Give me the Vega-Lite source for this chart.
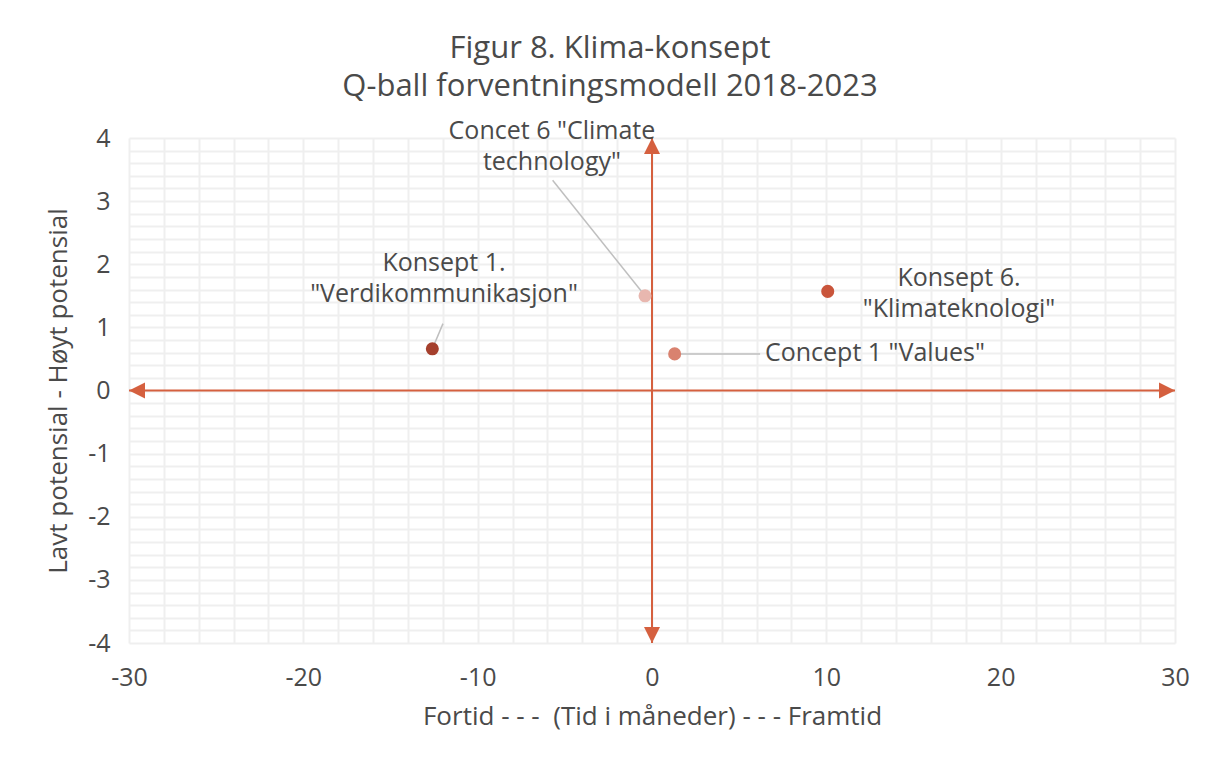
{
  "$schema": "https://vega.github.io/schema/vega-lite/v6.json",
  "autosize": {"type": "none"},
  "width": 1046,
  "height": 505,
  "padding": {"left": 129, "top": 138, "right": 33, "bottom": 117},
  "background": "white",
  "title": {
    "text": ["Figur 8. Klima-konsept", "Q-ball forventningsmodell 2018-2023"],
    "anchor": "middle",
    "frame": "group",
    "dx": -42,
    "offset": 16,
    "fontSize": 31,
    "font": "Open Sans",
    "fontWeight": "normal",
    "color": "#4a4a4a",
    "lineHeight": 38
  },
  "config": {
    "view": {"stroke": null},
    "axis": {
      "labelFont": "Open Sans",
      "labelFontSize": 25,
      "labelColor": "#4a4a4a",
      "titleFont": "Open Sans",
      "titleFontSize": 26,
      "titleFontWeight": "normal",
      "titleColor": "#4a4a4a",
      "domain": false,
      "ticks": false,
      "tickSize": 0,
      "tickCount": 100,
      "grid": true,
      "gridColor": "#efefef",
      "gridWidth": 2,
      "labelOverlap": false,
      "labelBound": false,
      "labelFlush": false
    }
  },
  "datasets": {
    "axes": [
      {"x1": -30, "y1": 0, "x2": 30, "y2": 0},
      {"x1": 0, "y1": -4, "x2": 0, "y2": 4}
    ],
    "marks": [
      {"x": 30, "y": 0, "kind": "right"},
      {"x": -30, "y": 0, "kind": "left"},
      {"x": 0, "y": 4, "kind": "up"},
      {"x": 0, "y": -4, "kind": "down"},
      {"x": 0, "y": -4, "kind": "tickL"},
      {"x": 0, "y": -3, "kind": "tickL"},
      {"x": 0, "y": -2, "kind": "tickL"},
      {"x": 0, "y": -1, "kind": "tickL"},
      {"x": 0, "y": 1, "kind": "tickL"},
      {"x": 0, "y": 2, "kind": "tickL"},
      {"x": 0, "y": 3, "kind": "tickL"},
      {"x": 0, "y": 4, "kind": "tickL"},
      {"x": -30, "y": 0, "kind": "tickD"},
      {"x": -20, "y": 0, "kind": "tickD"},
      {"x": -10, "y": 0, "kind": "tickD"},
      {"x": 10, "y": 0, "kind": "tickD"},
      {"x": 20, "y": 0, "kind": "tickD"},
      {"x": 30, "y": 0, "kind": "tickD"}
    ],
    "points": [
      {"name": "Konsept 1", "x": -12.6, "y": 0.66},
      {"name": "Concept 6", "x": -0.4, "y": 1.5},
      {"name": "Concept 1", "x": 1.3, "y": 0.58},
      {"name": "Konsept 6", "x": 10.08, "y": 1.57}
    ],
    "leaders": [
      {"name": "Konsept 1", "x1": -11.99, "y1": 1.06, "x2": -12.6, "y2": 0.66},
      {"name": "Concept 6", "x1": -5.7, "y1": 3.33, "x2": -0.4, "y2": 1.5},
      {"name": "Concept 1", "x1": 6.2, "y1": 0.58, "x2": 1.3, "y2": 0.58}
    ],
    "labels": [
      {"label": "Konsept 1.\n\"Verdikommunikasjon\"", "x": -11.93, "y": 2.02, "align": "center"},
      {"label": "Concet 6 \"Climate\ntechnology\"", "x": -5.74, "y": 4.11, "align": "center"},
      {"label": "Concept 1 \"Values\"", "x": 6.48, "y": 0.59, "align": "left"},
      {"label": "Konsept 6.\n\"Klimateknologi\"", "x": 17.61, "y": 1.78, "align": "center"}
    ]
  },
  "layer": [
    {
      "data": {"name": "axes"},
      "mark": {"type": "rule", "color": "#d5603f", "strokeWidth": 2},
      "encoding": {
        "x": {
          "field": "x1", "type": "quantitative",
          "scale": {"domain": [-30, 30], "nice": false, "zero": false},
          "axis": {
            "title": "Fortid - - - \u00a0(Tid i måneder) - - - Framtid",
            "values": [-30,-28,-26,-24,-22,-20,-18,-16,-14,-12,-10,-8,-6,-4,-2,0,2,4,6,8,10,12,14,16,18,20,22,24,26,28,30],
            "labelExpr": "datum.value % 10 == 0 ? '' + datum.value : ''",
            "labelPadding": 22,
            "titlePadding": 13
          }
        },
        "y": {
          "field": "y1", "type": "quantitative",
          "scale": {"domain": [-4, 4], "nice": false, "zero": false},
          "axis": {
            "title": "Lavt potensial - Høyt potensial",
            "values": [-4,-3.8,-3.6,-3.4,-3.2,-3,-2.8,-2.6,-2.4,-2.2,-2,-1.8,-1.6,-1.4,-1.2,-1,-0.8,-0.6,-0.4,-0.2,0,0.2,0.4,0.6,0.8,1,1.2,1.4,1.6,1.8,2,2.2,2.4,2.6,2.8,3,3.2,3.4,3.6,3.8,4],
            "labelExpr": "abs(datum.value - round(datum.value)) < 0.01 ? '' + round(datum.value) : ''",
            "labelPadding": 19,
            "titlePadding": 16
          }
        },
        "x2": {"field": "x2"},
        "y2": {"field": "y2"}
      }
    },
    {
      "data": {"name": "marks"},
      "mark": {"type": "point", "opacity": 1},
      "encoding": {
        "x": {"field": "x", "type": "quantitative"},
        "y": {"field": "y", "type": "quantitative"},
        "shape": {
          "field": "kind", "type": "nominal", "legend": null,
          "scale": {
            "domain": ["right", "left", "up", "down", "tickL", "tickD"],
            "range": ["M0,0L-2,-1L-2,1Z", "M0,0L2,-1L2,1Z", "M0,0L-1,2L1,2Z", "M0,0L-1,-2L1,-2Z", "M0,0L-2,0", "M0,0L0,2"]
          }
        },
        "size": {
          "field": "kind", "type": "nominal", "legend": null,
          "scale": {
            "domain": ["right", "left", "up", "down", "tickL", "tickD"],
            "range": [256, 256, 256, 256, 81, 81]
          }
        },
        "fill": {
          "field": "kind", "type": "nominal", "legend": null,
          "scale": {
            "domain": ["right", "left", "up", "down", "tickL", "tickD"],
            "range": ["#d5603f", "#d5603f", "#d5603f", "#d5603f", "transparent", "transparent"]
          }
        },
        "strokeWidth": {
          "field": "kind", "type": "nominal", "legend": null,
          "scale": {
            "domain": ["right", "left", "up", "down", "tickL", "tickD"],
            "range": [0, 0, 0, 0, 2, 2]
          }
        },
        "stroke": {"value": "#d5603f"}
      }
    },
    {
      "data": {"name": "leaders"},
      "mark": {"type": "rule", "color": "#bfbfbf", "strokeWidth": 1.5},
      "encoding": {
        "x": {"field": "x1", "type": "quantitative"},
        "y": {"field": "y1", "type": "quantitative"},
        "x2": {"field": "x2"},
        "y2": {"field": "y2"}
      }
    },
    {
      "data": {"name": "points"},
      "mark": {"type": "circle", "size": 170, "opacity": 1},
      "encoding": {
        "x": {"field": "x", "type": "quantitative"},
        "y": {"field": "y", "type": "quantitative"},
        "color": {
          "field": "name", "type": "nominal", "legend": null,
          "scale": {
            "domain": ["Konsept 1", "Concept 6", "Concept 1", "Konsept 6"],
            "range": ["#a5402d", "#e8b7af", "#d9826f", "#c9553b"]
          }
        }
      }
    },
    {
      "data": {"name": "labels"},
      "transform": [{"filter": "datum.align == 'center'"}],
      "mark": {"type": "text", "font": "Open Sans", "fontSize": 25, "color": "#4a4a4a", "align": "center", "baseline": "middle", "lineBreak": "\n", "lineHeight": 31},
      "encoding": {
        "x": {"field": "x", "type": "quantitative"},
        "y": {"field": "y", "type": "quantitative"},
        "text": {"field": "label"}
      }
    },
    {
      "data": {"name": "labels"},
      "transform": [{"filter": "datum.align == 'left'"}],
      "mark": {"type": "text", "font": "Open Sans", "fontSize": 25, "color": "#4a4a4a", "align": "left", "baseline": "middle", "lineBreak": "\n", "lineHeight": 31},
      "encoding": {
        "x": {"field": "x", "type": "quantitative"},
        "y": {"field": "y", "type": "quantitative"},
        "text": {"field": "label"}
      }
    }
  ]
}
